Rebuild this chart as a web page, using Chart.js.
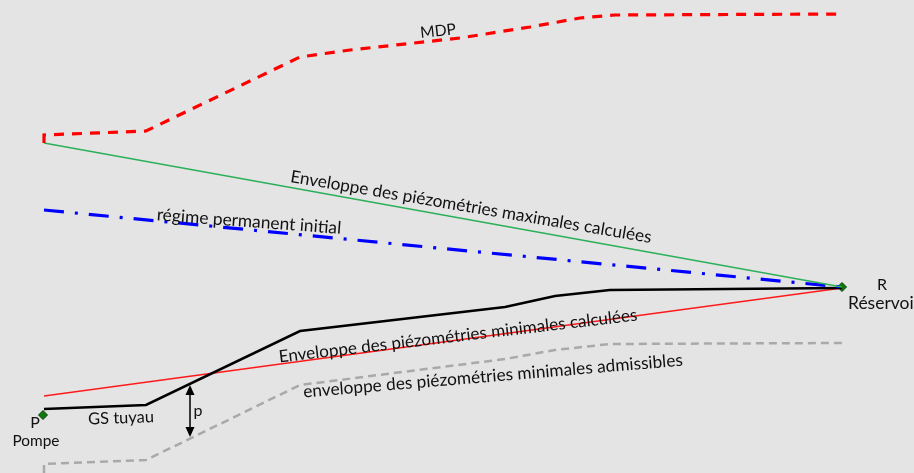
<!DOCTYPE html>
<html>
<head>
<meta charset="utf-8">
<script src="https://cdn.jsdelivr.net/npm/chart.js@4.4.0/dist/chart.umd.min.js"></script>
<style>
  html, body { margin: 0; padding: 0; background: #e4e4e4; overflow: hidden; }
  #wrap { width: 914px; height: 473px; }
</style>
</head>
<body>
<div id="wrap"><canvas id="profil" width="914" height="473"></canvas></div>
<script>
// abscisses (distance along the pipe) and heads
const mdpX = [44, 44, 146, 300, 350, 460, 530, 580, 615, 842];
const mdpY = [330, 338, 342, 416, 423, 435, 446, 455, 458, 459];

const envMaxX = [44, 842];
const envMaxY = [330, 186];

const regimeX = [44, 842];
const regimeY = [263, 186];

const gsX = [44, 146, 300, 505, 555, 610, 842];
const gsY = [64, 68, 142, 166, 177, 183, 185];

const envMinX = [44, 842];
const envMinY = [77, 185];

const admX = [44, 44, 146, 300, 505, 555, 610, 842];
const admY = [0, 9, 13, 88, 114, 123, 129, 130];

const nodeX = [43, 842];
const nodeY = [58, 186];

// pressure arrow "p"
const arrowX = 190;
const arrowTop = 88;
const arrowBottom = 36;

// text labels: [text, x, y, angle in degrees, width]
const labels = [
  ["MDP", 438, 442, -6, 36],
  ["Enveloppe des piézométries maximales calculées", 471, 266, 9.6, 366],
  ["régime permanent initial", 249, 251.5, 4.2, 185],
  ["Enveloppe des piézométries minimales calculées", 458, 137, -6.7, 361],
  ["enveloppe des piézométries minimales admissibles", 493, 97, -4.8, 381],
  ["GS tuyau", 121, 55, -2, 66],
  ["p", 198, 62, 0, 0],
  ["P", 35, 50, 0, 0],
  ["Pompe", 36, 32, 0, 47],
  ["R", 882, 188, 0, 0],
  ["Réservoir", 884, 170, 0, 72]
];

const pts = (xs, ys) => xs.map((x, i) => ({ x: x, y: ys[i] }));

const annotations = {
  id: "annotations",
  afterDatasetsDraw(chart) {
    const ctx = chart.ctx;
    const sx = chart.scales.x;
    const sy = chart.scales.y;

    // double arrow for p
    const ax = sx.getPixelForValue(arrowX);
    const y1 = sy.getPixelForValue(arrowTop);
    const y2 = sy.getPixelForValue(arrowBottom);
    ctx.save();
    ctx.strokeStyle = "#000";
    ctx.fillStyle = "#000";
    ctx.lineWidth = 1.5;
    ctx.beginPath();
    ctx.moveTo(ax, y1 + 6);
    ctx.lineTo(ax, y2 - 6);
    ctx.stroke();
    ctx.beginPath();
    ctx.moveTo(ax, y1);
    ctx.lineTo(ax - 4.5, y1 + 10);
    ctx.lineTo(ax + 4.5, y1 + 10);
    ctx.closePath();
    ctx.fill();
    ctx.beginPath();
    ctx.moveTo(ax, y2);
    ctx.lineTo(ax - 4.5, y2 - 10);
    ctx.lineTo(ax + 4.5, y2 - 10);
    ctx.closePath();
    ctx.fill();
    ctx.restore();

    // labels
    labels.forEach(([text, x, y, angle, width]) => {
      ctx.save();
      ctx.translate(sx.getPixelForValue(x), sy.getPixelForValue(y));
      ctx.rotate(angle * Math.PI / 180);
      let size = 16;
      ctx.font = size + "px Lato, 'Open Sans', sans-serif";
      if (width) {
        size = size * width / ctx.measureText(text).width;
        ctx.font = size.toFixed(2) + "px Lato, 'Open Sans', sans-serif";
      }
      ctx.fillStyle = "#111111";
      ctx.textAlign = "center";
      ctx.textBaseline = "middle";
      ctx.fillText(text, 0, 0);
      ctx.restore();
    });
  }
};

new Chart(document.getElementById("profil"), {
  type: "scatter",
  data: {
    datasets: [
      {
        data: pts(mdpX, mdpY),
        showLine: true,
        borderColor: "#ff0000",
        borderWidth: 3.2,
        borderDash: [10, 8],
        tension: 0,
        pointRadius: 0
      },
      {
        data: pts(envMaxX, envMaxY),
        showLine: true,
        borderColor: "#2bb05a",
        borderWidth: 1.5,
        pointRadius: 0
      },
      {
        data: pts(regimeX, regimeY),
        showLine: true,
        borderColor: "#0000ff",
        borderWidth: 3.2,
        borderDash: [20, 11, 3, 11],
        pointRadius: 0
      },
      {
        data: pts(gsX, gsY),
        showLine: true,
        borderColor: "#000000",
        borderWidth: 2.5,
        pointRadius: 0
      },
      {
        data: pts(envMinX, envMinY),
        showLine: true,
        borderColor: "#ff1a1a",
        borderWidth: 1.5,
        pointRadius: 0
      },
      {
        data: pts(admX, admY),
        showLine: true,
        borderColor: "#a9a9a9",
        borderWidth: 2.5,
        borderDash: [8, 5],
        pointRadius: 0
      },
      {
        data: pts(nodeX, nodeY),
        showLine: false,
        pointStyle: "rectRot",
        pointRadius: 4.5,
        pointBackgroundColor: "#0b7a0b",
        pointBorderColor: "#0d3d0d",
        pointBorderWidth: 1
      }
    ]
  },
  options: {
    responsive: false,
    animation: false,
    clip: false,
    layout: { padding: 0, autoPadding: false },
    plugins: {
      legend: { display: false },
      tooltip: { enabled: false }
    },
    scales: {
      x: { type: "linear", min: 0, max: 914, display: false },
      y: { type: "linear", min: 0, max: 473, display: false }
    }
  },
  plugins: [annotations]
});
</script>
</body>
</html>
